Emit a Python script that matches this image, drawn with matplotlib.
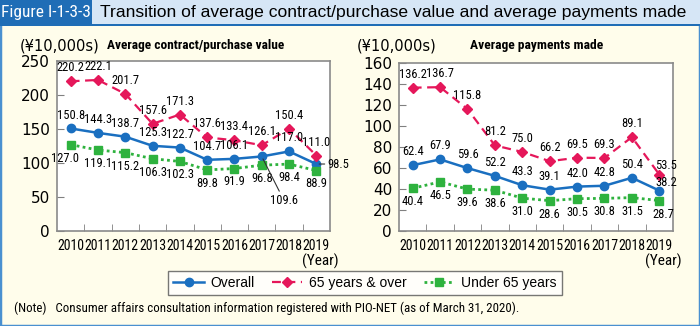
import numpy as np
import matplotlib.pyplot as plt
from matplotlib import font_manager as fm
from matplotlib.patches import Rectangle

years = ['2010', '2011', '2012', '2013', '2014', '2015', '2016', '2017', '2018', '2019']

# Average contract/purchase value (10,000 yen)
contract_overall = [150.8, 144.3, 138.7, 125.3, 122.7, 104.7, 106.1, 109.6, 117.0, 98.5]
contract_65over = [220.2, 222.1, 201.7, 157.6, 171.3, 137.6, 133.4, 126.1, 150.4, 111.0]
contract_under65 = [127.0, 119.1, 115.2, 106.3, 102.3, 89.8, 91.9, 96.8, 98.4, 88.9]

# Average payments made (10,000 yen)
paid_overall = [62.4, 67.9, 59.6, 52.2, 43.3, 39.1, 42.0, 42.8, 50.4, 38.2]
paid_65over = [136.2, 136.7, 115.8, 81.2, 75.0, 66.2, 69.5, 69.3, 89.1, 53.5]
paid_under65 = [40.4, 46.5, 39.6, 38.6, 31.0, 28.6, 30.5, 30.8, 31.5, 28.7]

BLUE = '#1a6fc0'
RED = '#e5175a'
GREEN = '#2eb23e'
CREAM = '#fffdeb'

# pick a narrow font if one is installed
fonts = fm.fontManager.ttflist
names = {f.name for f in fonts}
NARROW = dict(family='Liberation Sans', stretch='normal')
scale = 0.85
for cand in ['Liberation Sans Narrow', 'Roboto Condensed', 'Open Sans Condensed', 'Arial Narrow']:
    if cand in names:
        NARROW = dict(family=cand, stretch='normal')
        scale = 1.0
        break
else:
    if any(f.name == 'DejaVu Sans' and 'condensed' in str(f.stretch) for f in fonts):
        NARROW = dict(family='DejaVu Sans', stretch='condensed')
        scale = 0.9


def nfont(size, **kw):
    d = dict(NARROW)
    d['size'] = size * scale
    d.update(kw)
    return fm.FontProperties(**d)


fig = plt.figure(figsize=(7, 3.26), dpi=100)
fig.patch.set_facecolor(CREAM)

# title bar and panel border
fig.patches.append(Rectangle((0, 0), 1, 1, transform=fig.transFigure, fill=False,
                             edgecolor='#4a90d0', linewidth=2.5, zorder=0))
fig.patches.append(Rectangle((0, 1 - 24 / 326), 1, 24 / 326, transform=fig.transFigure,
                             facecolor='#d6e6f6', edgecolor='none', zorder=1))
fig.patches.append(Rectangle((0, 1 - 24 / 326), 92 / 700, 24 / 326, transform=fig.transFigure,
                             facecolor='#1f6db6', edgecolor='none', zorder=2))
fig.patches.append(Rectangle((0, 1 - 25.5 / 326), 1, 1.2 / 326, transform=fig.transFigure,
                             facecolor='#1f6db6', edgecolor='none', zorder=2))
fig.text(46 / 700, 1 - 12 / 326, 'Figure I-1-3-3', color='white',
         fontproperties=nfont(12.5), ha='center', va='center', zorder=3)
fig.text(100 / 700, 1 - 12 / 326, 'Transition of average contract/purchase value and average payments made',
         color='black', fontsize=12.6, family='Liberation Sans', ha='left', va='center', zorder=3)


def draw(ax, overall, over65, under65, ymax, step):
    x = np.arange(len(years))
    ax.set_facecolor('white')
    ax.plot(x, overall, color=BLUE, lw=1.8, marker='o', ms=6, label='Overall', zorder=4)
    ax.plot(x, over65, color=RED, lw=1.6, ls=(0, (4, 2.5)), marker='D', ms=5.5,
            label='65 years & over', zorder=4)
    ax.plot(x, under65, color=GREEN, lw=2, ls=(0, (1, 1.2)), marker='s', ms=6,
            label='Under 65 years', zorder=4)
    ax.set_xlim(-0.5, len(years) - 0.5)
    ax.set_ylim(0, ymax)
    ax.set_yticks(np.arange(0, ymax + 1, step))
    ax.set_xticks(x)
    ax.set_xticklabels(years, fontproperties=nfont(10))
    ax.set_xticks(np.arange(0.5, len(years) - 1, 1), minor=True)
    ax.tick_params(axis='x', which='major', length=0, pad=6)
    ax.tick_params(axis='x', which='minor', direction='in', length=5, color='#808080')
    ax.tick_params(axis='y', direction='in', length=5, color='#808080', labelsize=11, pad=5)
    for s in ax.spines.values():
        s.set_color('#8a8a8a')
        s.set_linewidth(1.2)
    return x


def label(ax, xi, yi, txt, dy, va, dx=0, ha='center', line=False):
    kw = {}
    if line:
        kw['arrowprops'] = dict(arrowstyle='-', color='#333333', lw=0.8, shrinkA=0, shrinkB=2)
    ax.annotate(txt, (xi, yi), xytext=(dx, dy), textcoords='offset points',
                ha=ha, va=va, fontproperties=nfont(9),
                annotation_clip=False, zorder=5, **kw)


# left chart
ax1 = fig.add_axes([57 / 700, 1 - 231 / 326, 273 / 700, 170 / 326])
x = draw(ax1, contract_overall, contract_65over, contract_under65, 250, 50)
for i in range(len(years)):
    label(ax1, x[i], contract_65over[i], f'{contract_65over[i]:.1f}', 5, 'bottom')
    label(ax1, x[i], contract_under65[i], f'{contract_under65[i]:.1f}', -5, 'top',
          dx=-4 if i == 0 else 0)
    if i == 7:
        label(ax1, x[i], contract_overall[i], f'{contract_overall[i]:.1f}', -27, 'top',
              dx=16, line=True)
    elif i == 9:
        label(ax1, x[i], contract_overall[i], f'{contract_overall[i]:.1f}', 0, 'center',
              dx=8, ha='left', line=True)
    else:
        label(ax1, x[i], contract_overall[i], f'{contract_overall[i]:.1f}', 5, 'bottom')

# right chart
ax2 = fig.add_axes([399 / 700, 1 - 230.7 / 326, 274 / 700, 168 / 326])
x = draw(ax2, paid_overall, paid_65over, paid_under65, 160, 20)
for i in range(len(years)):
    if i == 9:
        label(ax2, x[i], paid_65over[i], f'{paid_65over[i]:.1f}', 2, 'bottom', 5)
        label(ax2, x[i], paid_overall[i], f'{paid_overall[i]:.1f}', 1, 'bottom', 5)
    else:
        label(ax2, x[i], paid_65over[i], f'{paid_65over[i]:.1f}', 5, 'bottom')
        label(ax2, x[i], paid_overall[i], f'{paid_overall[i]:.1f}', 5, 'bottom')
    label(ax2, x[i], paid_under65[i], f'{paid_under65[i]:.1f}', -5, 'top', 3 if i == 9 else 0)

# units and subtitles
fig.text(20 / 700, 1 - 46 / 326, '(¥10,000s)', fontsize=10.5, ha='left', va='center')
fig.text(107 / 700, 1 - 46 / 326, 'Average contract/purchase value',
         fontproperties=nfont(9.6, weight='bold'), ha='left', va='center')
fig.text(357 / 700, 1 - 46 / 326, '(¥10,000s)', fontsize=10.5, ha='left', va='center')
fig.text(470 / 700, 1 - 46 / 326, 'Average payments made',
         fontproperties=nfont(9.7, weight='bold'), ha='left', va='center')
fig.text(339 / 700, 1 - 261 / 326, '(Year)', fontproperties=nfont(11), ha='right', va='center')
fig.text(682 / 700, 1 - 261 / 326, '(Year)', fontproperties=nfont(11), ha='right', va='center')

handles, labels = ax1.get_legend_handles_labels()
leg = fig.legend(handles, labels, loc='center', bbox_to_anchor=(365 / 700, 1 - 283 / 326), ncol=3,
                 fontsize=10, frameon=True, fancybox=False, handlelength=2.2,
                 handletextpad=0.5, columnspacing=1.2, borderpad=0.35)
leg.get_frame().set_edgecolor('#555555')
leg.get_frame().set_linewidth(1)
for t in leg.get_texts():
    t.set_family(['Liberation Sans', 'DejaVu Sans'])

fig.text(14 / 700, 1 - 308 / 326,
         '(Note)   Consumer affairs consultation information registered with PIO-NET (as of March 31, 2020).',
         fontproperties=nfont(9.3), ha='left', va='center')

fig.savefig('out.png', dpi=100, facecolor=fig.get_facecolor())
